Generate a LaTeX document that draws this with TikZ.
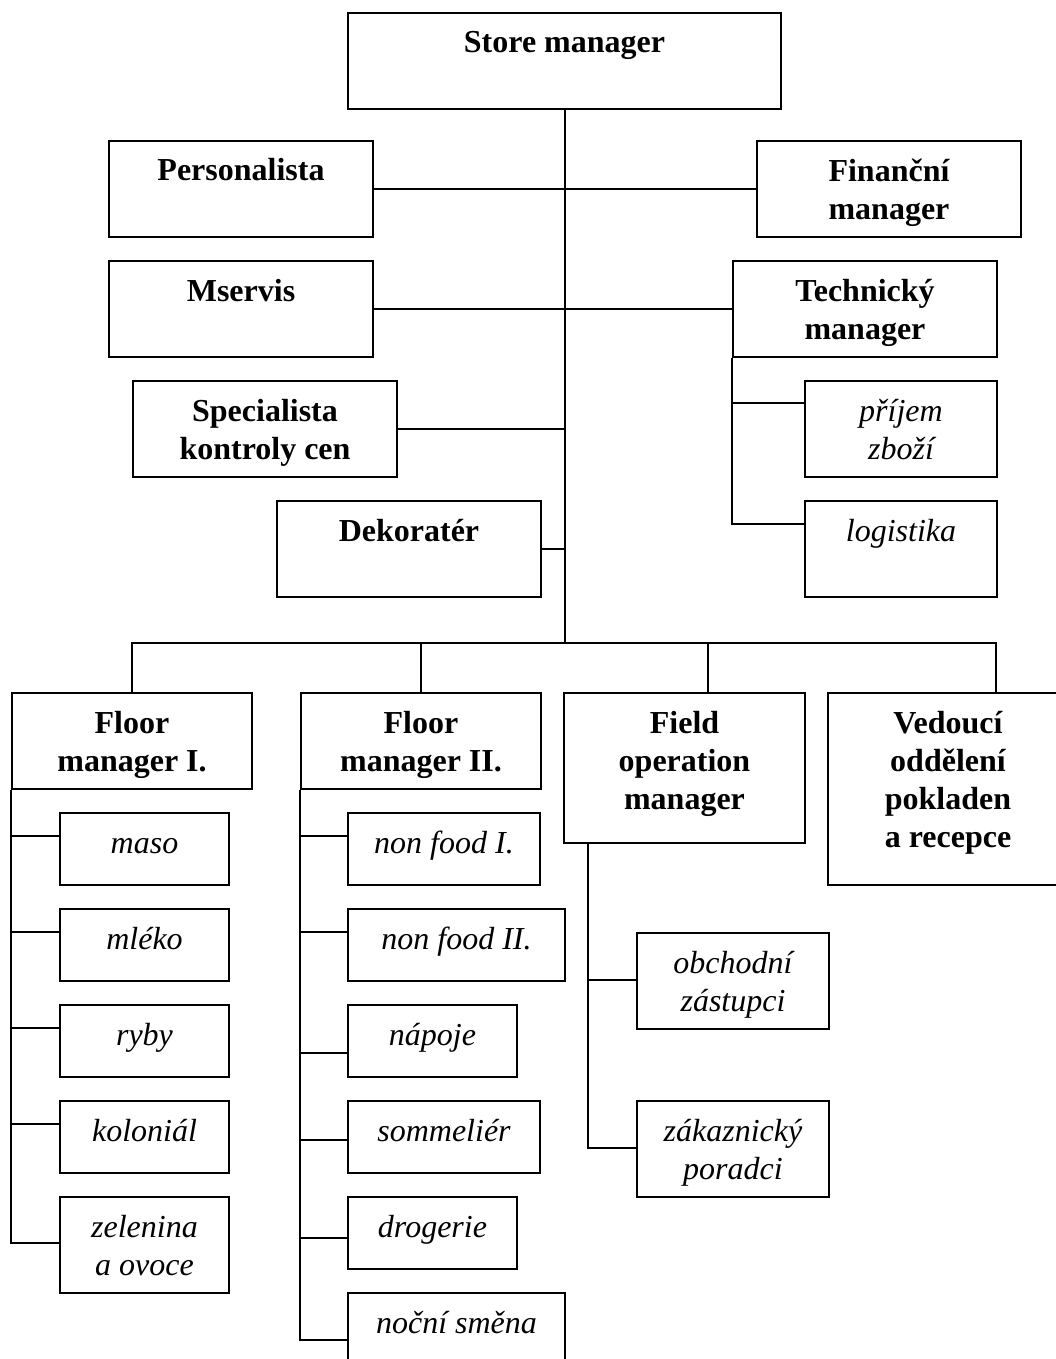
\documentclass[tikz,border=0pt]{standalone}
\usepackage{fontspec}
\setmainfont{Liberation Serif}
\usetikzlibrary{calc}
\begin{document}
\begin{tikzpicture}[x=1pt,y=-1pt,
  box/.style={draw,line width=2pt,anchor=north west,inner sep=0pt},
  head/.style={anchor=base,align=center,inner sep=0pt,font=\fontsize{32}{38}\selectfont\bfseries},
  item/.style={anchor=base,align=center,inner sep=0pt,font=\fontsize{32}{38}\selectfont\itshape},
  link/.style={line width=2pt}]
\useasboundingbox (0,0) rectangle (1056,1359);
% top (text base = last line: 41 + 38 per extra line)
\node[box,minimum width=433,minimum height=96] (sm) at (347,12) {};
\node[head] (sm-t) at ($(sm.north)+(0,41)$) {Store manager};
% staff beside the trunk
\node[box,minimum width=264,minimum height=96] (pers) at (108,140) {};
\node[head] (pers-t) at ($(pers.north)+(0,41)$) {Personalista};
\node[box,minimum width=264,minimum height=96] (fin) at (756,140) {};
\node[head] (fin-t) at ($(fin.north)+(0,79)$) {Finanční\\manager};
\node[box,minimum width=264,minimum height=96] (mserv) at (108,260) {};
\node[head] (mserv-t) at ($(mserv.north)+(0,41)$) {Mservis};
\node[box,minimum width=264,minimum height=96] (tech) at (732,260) {};
\node[head] (tech-t) at ($(tech.north)+(0,79)$) {Technický\\manager};
\node[box,minimum width=264,minimum height=96] (spec) at (132,380) {};
\node[head] (spec-t) at ($(spec.north)+(0,79)$) {Specialista\\kontroly cen};
\node[box,minimum width=264,minimum height=96] (dek) at (276,500) {};
\node[head] (dek-t) at ($(dek.north)+(0,41)$) {Dekoratér};
\node[box,minimum width=192,minimum height=96] (prij) at (804,380) {};
\node[item] (prij-t) at ($(prij.north)+(0,79)$) {příjem\\zboží};
\node[box,minimum width=192,minimum height=96] (log) at (804,500) {};
\node[item] (log-t) at ($(log.north)+(0,41)$) {logistika};
% second level
\node[box,minimum width=240,minimum height=96] (fm1) at (11,692) {};
\node[head] (fm1-t) at ($(fm1.north)+(0,79)$) {Floor\\manager I.};
\node[box,minimum width=240,minimum height=96] (fm2) at (300,692) {};
\node[head] (fm2-t) at ($(fm2.north)+(0,79)$) {Floor\\manager II.};
\node[box,minimum width=241,minimum height=150] (fom) at (563,692) {};
\node[head] (fom-t) at ($(fom.north)+(0,117)$) {Field\\operation\\manager};
\node[box,minimum width=240,minimum height=192] (vo) at (827,692) {};
\node[head] (vo-t) at ($(vo.north)+(0,155)$) {Vedoucí\\oddělení\\pokladen\\a recepce};
% departments, floor I
\node[box,minimum width=169,minimum height=72] (maso) at (59,812) {};
\node[item] (maso-t) at ($(maso.north)+(0,41)$) {maso};
\node[box,minimum width=169,minimum height=72] (mleko) at (59,908) {};
\node[item] (mleko-t) at ($(mleko.north)+(0,41)$) {mléko};
\node[box,minimum width=169,minimum height=72] (ryby) at (59,1004) {};
\node[item] (ryby-t) at ($(ryby.north)+(0,41)$) {ryby};
\node[box,minimum width=169,minimum height=72] (kol) at (59,1100) {};
\node[item] (kol-t) at ($(kol.north)+(0,41)$) {koloniál};
\node[box,minimum width=169,minimum height=96] (zel) at (59,1196) {};
\node[item] (zel-t) at ($(zel.north)+(0,79)$) {zelenina\\a ovoce};
% departments, floor II
\node[box,minimum width=192,minimum height=72] (nf1) at (347,812) {};
\node[item] (nf1-t) at ($(nf1.north)+(0,41)$) {non food I.};
\node[box,minimum width=217,minimum height=72] (nf2) at (347,908) {};
\node[item] (nf2-t) at ($(nf2.north)+(0,41)$) {non food II.};
\node[box,minimum width=169,minimum height=72] (nap) at (347,1004) {};
\node[item] (nap-t) at ($(nap.north)+(0,41)$) {nápoje};
\node[box,minimum width=192,minimum height=72] (som) at (347,1100) {};
\node[item] (som-t) at ($(som.north)+(0,41)$) {sommeliér};
\node[box,minimum width=169,minimum height=72] (drog) at (347,1196) {};
\node[item] (drog-t) at ($(drog.north)+(0,41)$) {drogerie};
\node[box,minimum width=217,minimum height=96] (noc) at (347,1292) {};
\node[item] (noc-t) at ($(noc.north)+(0,41)$) {noční směna};
% field operation
\node[box,minimum width=192,minimum height=96] (obch) at (636,932) {};
\node[item] (obch-t) at ($(obch.north)+(0,79)$) {obchodní\\zástupci};
\node[box,minimum width=192,minimum height=96] (zak) at (636,1100) {};
\node[item] (zak-t) at ($(zak.north)+(0,79)$) {zákaznický\\poradci};
% connectors
\coordinate (b1) at (131,643);
\coordinate (b3) at (708,643);
\coordinate (b4) at (996,643);
\coordinate (fo) at ($(fom.south west)+(25,0)$);
\draw[link] (sm.south) -- (sm.south |- b1);
\draw[link] (pers.east) -- (fin.west);
\draw[link] (mserv.east) -- (tech.west);
\draw[link] (spec.east) -- (spec.east -| sm.south);
\draw[link] (dek.east) -- (dek.east -| sm.south);
\draw[link] (tech.south west) |- ($(log.north west)+(0,24)$);
\draw[link] ($(prij.north west)+(0,23)$) -| (tech.south west);
\draw[link] (fm1.north) |- (b4) -- (b4 |- vo.north);
\draw[link] (fm2.north |- b1) -- (fm2.north);
\draw[link] (b3) -- (b3 |- fom.north);
\draw[link] (fm1.south west) |- ($(zel.north west)+(0,47)$);
\foreach \n in {maso,mleko,ryby,kol}
  \draw[link] ($(\n.north west)+(0,24)$) -| (fm1.south west);
\draw[link] (fm2.south west) |- ($(noc.north west)+(0,48)$);
\foreach \n/\d in {nf1/24,nf2/24,nap/49,som/40,drog/42}
  \draw[link] ($(\n.north west)+(0,\d)$) -| (fm2.south west);
\draw[link] (fo) |- ($(zak.north west)+(0,48)$);
\draw[link] ($(obch.north west)+(0,48)$) -| (fo);
\end{tikzpicture}
\end{document}
